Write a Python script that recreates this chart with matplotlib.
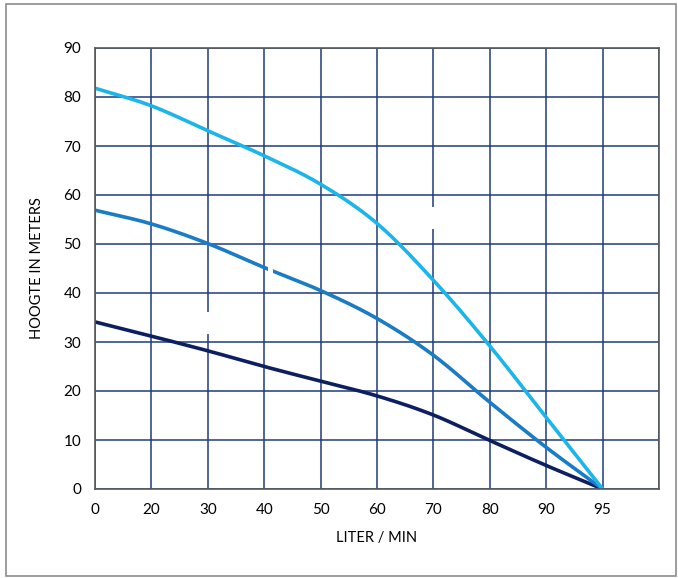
import matplotlib
matplotlib.use("Agg")
import numpy as np
import matplotlib.pyplot as plt
from matplotlib.patches import Rectangle

plt.rcParams['font.family'] = ['Lato', 'DejaVu Sans']

categories = ['0', '20', '30', '40', '50', '60', '70', '80', '90', '95']
pump_high = [81.8, 78.2, 73.1, 68.0, 62.2, 54.2, 42.6, 29.2, 14.6, 0]
pump_mid = [56.9, 54.1, 50.1, 45.2, 40.5, 34.8, 27.3, 17.7, 8.5, 0]
pump_low = [34.1, 31.2, 28.2, 25.0, 22.0, 19.0, 15.1, 9.9, 4.8, 0]
yticks = [0, 10, 20, 30, 40, 50, 60, 70, 80, 90]


def smooth(y, n=20):
    """Catmull-Rom spline through the category points (rendering only)."""
    y = np.asarray(y, float)
    x = np.arange(len(y), dtype=float)
    P = np.column_stack([x, y])
    P = np.vstack([P[0] - (P[1] - P[0]), P, P[-1] + (P[-1] - P[-2])])
    out = []
    t = np.linspace(0, 1, n, endpoint=False)[:, None]
    for i in range(1, len(P) - 2):
        p0, p1, p2, p3 = P[i - 1], P[i], P[i + 1], P[i + 2]
        seg = 0.5 * ((2 * p1) + (-p0 + p2) * t + (2 * p0 - 5 * p1 + 4 * p2 - p3) * t ** 2
                     + (-p0 + 3 * p1 - 3 * p2 + p3) * t ** 3)
        out.append(seg)
    out.append(P[-2][None, :])
    out = np.vstack(out)
    return out[:, 0], out[:, 1]


fig = plt.figure(figsize=(6.78, 5.78), dpi=100)
fig.patches.append(Rectangle((6/678, 2/578), 670/678, 572/578, transform=fig.transFigure,
                             fill=False, edgecolor='#8c8c8c', linewidth=1.2))
ax = fig.add_axes([95/678, 1-489/578, 564/678, 441/578])

pos = np.arange(len(categories))
grid_c = '#1f3c78'
for x in range(len(categories) + 1):
    ax.axvline(x, color=grid_c, lw=1.1, zorder=1)
for y in yticks:
    ax.axhline(y, color=grid_c, lw=1.1, zorder=1)

for vals, col in [(pump_low, '#0d1f60'), (pump_mid, '#1a7cc4'), (pump_high, '#1cb5ea')]:
    sx, sy = smooth(vals)
    ax.plot(sx, sy, color=col, lw=2.6, zorder=3, solid_capstyle='butt')

# hidden white labels
for (x0, y0, w, h) in [(1.93, 31.6, 0.14, 4.5), (5.93, 53.0, 0.14, 4.5), (3.07, 43.5, 0.09, 4.0)]:
    ax.add_patch(Rectangle((x0, y0), w, h, facecolor='white', edgecolor='none', zorder=4))

ax.set_xlim(0, len(categories))
ax.set_ylim(0, 90)
ax.set_xticks(pos)
ax.set_xticklabels(categories)
ax.set_yticks(yticks)
ax.tick_params(length=0, labelsize=11, pad=10, colors='#000000')
for s in ax.spines.values():
    s.set_color('#595959')
    s.set_linewidth(1.2)
    s.set_zorder(5)
ax.set_xlabel('LITER / MIN', fontsize=10.5, labelpad=10)
ax.set_ylabel('HOOGTE IN METERS', fontsize=10.5, labelpad=14)

fig.savefig('out.png', dpi=100)
